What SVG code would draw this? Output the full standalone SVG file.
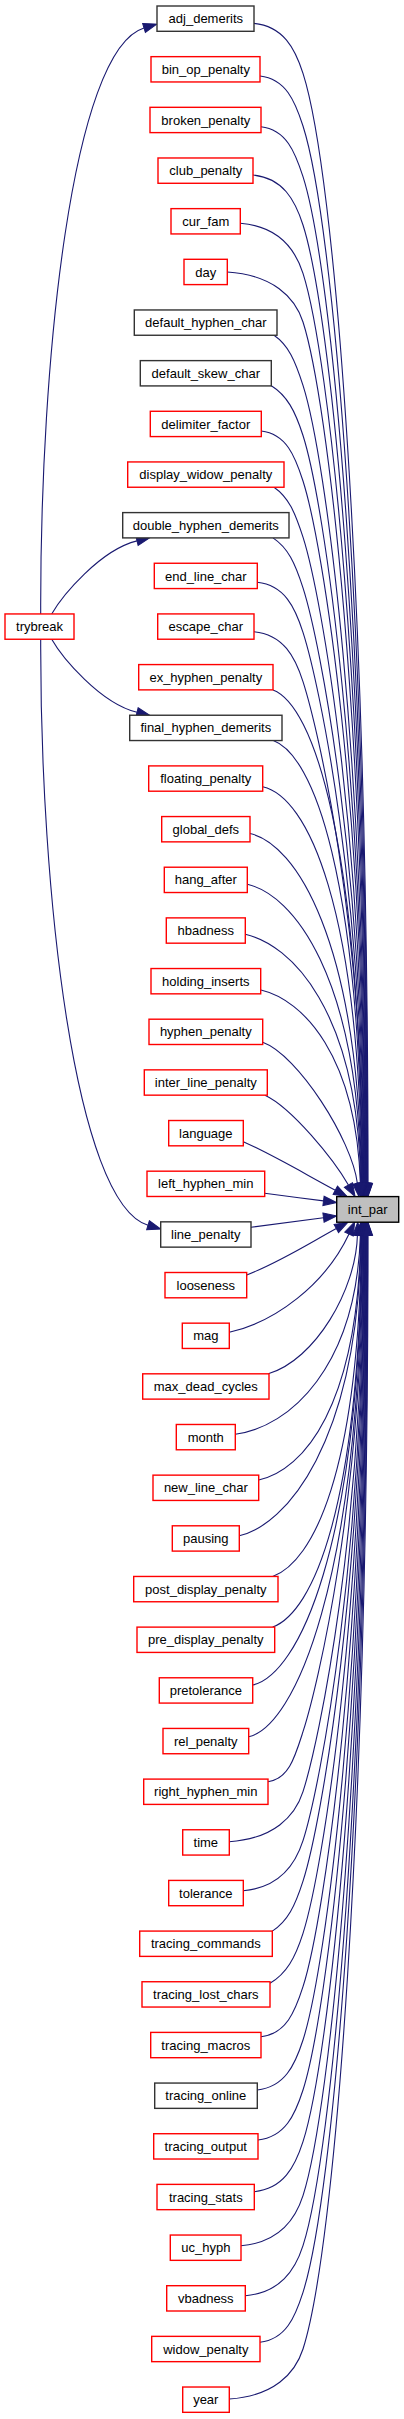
<svg xmlns="http://www.w3.org/2000/svg" width="404" height="2419" viewBox="0 0 404 2419">
<style>
.n rect{fill:#ffffff;stroke-width:1.4}
.r rect{stroke:#ff0000}
.b rect{stroke:#333333}
.s rect{fill:#bfbfbf;stroke:#000000}
text{font-family:"Liberation Sans",Arial,Helvetica,sans-serif;font-size:13px;text-anchor:middle;fill:#000000}
.e path{fill:none;stroke:#191970;stroke-width:1.1;marker-end:url(#ah)}
</style>
<defs>
<marker id="ah" markerUnits="userSpaceOnUse" markerWidth="13.3" markerHeight="9.34" viewBox="0 0 13.3 9.34" refX="0" refY="4.67" orient="auto" overflow="visible">
<path d="M0,0 L13.3,4.67 L0,9.34 Z" fill="#191970" stroke="#191970" stroke-width="1"/>
</marker>
</defs>
<rect x="0" y="0" width="404" height="2419" fill="#ffffff"/>
<g id="connectors" class="e">
<path d="M40.7,614 C40,360 72,50 144,28"/>
<path d="M51.7,614 C62,596 100,550 137,540.9"/>
<path d="M51.7,639.2 C62,657.2 100,703.2 137,712.3"/>
<path d="M40.7,639.2 C40,893.2 75,1203.2 148,1225.2"/>
<path d="M254,23.4 C283.4,26.4 295,48.4 303,73.4 C335,173.3 368,595.1 368,1183.3"/>
<path d="M260,76 C285.8,79 295,101 303,126 C333.5,221.2 367.6,622.9 367.6,1183.3"/>
<path d="M261,126.7 C286.2,129.7 295,151.7 303,176.7 C332,267.3 367.2,649.8 367.2,1183.3"/>
<path d="M253,175 C283,178 295,200 303,225 C330.6,311.2 366.8,675.4 366.8,1183.3"/>
<path d="M240.3,223.3 C277.9,226.3 295,248.3 303,273.3 C329.2,355.2 366.4,701 366.4,1183.3"/>
<path d="M227.3,272 C272.7,275 295,297 303,322 C327.8,399.5 366,726.8 366,1183.3"/>
<path d="M274,335.3 C288.5,345.3 295,360.3 303,385.3 C326,457.1 365.6,760.4 365.6,1183.3"/>
<path d="M271,385.5 C287,395.5 295,410.5 303,435.5 C324.5,502.8 365.2,787 365.2,1183.3"/>
<path d="M261.3,431 C286.3,434 295,456 303,481 C323.2,544.2 364.8,811.1 364.8,1183.3"/>
<path d="M274,487.2 C288.5,497.2 295,512.2 303,537.2 C321.6,595.3 364.4,840.9 364.4,1183.3"/>
<path d="M273,537.9 C288,547.9 295,562.9 303,587.9 C320.2,641.5 364,867.7 364,1183.3"/>
<path d="M257.3,582.3 C284.7,585.3 295,607.3 303,632.3 C318.9,681.9 363.6,891.3 363.6,1183.3"/>
<path d="M254,631.7 C283.4,634.7 295,656.7 303,681.7 C317.4,726.8 363.2,917.5 363.2,1183.3"/>
<path d="M273,689.9 C313,704.9 359.8,837.9 362.8,1183.3"/>
<path d="M273.3,740.5 C313.3,755.5 359.4,873.3 362.4,1183.3"/>
<path d="M262.7,786.7 C307.7,796.7 359,905.7 362,1183.3"/>
<path d="M250,833.5 C295,843.5 358.6,938.4 361.6,1183.3"/>
<path d="M247.3,884.3 C292.3,894.3 358.2,974 361.2,1183.3"/>
<path d="M245.3,934.3 C290.3,944.3 357.8,1009 360.8,1183.3"/>
<path d="M261,990 C303,1000 356,1055 360.4,1183.3"/>
<path d="M262.7,1042.3 C298,1055 352,1140 357.4,1183.5"/>
<path d="M265,1095.2 C292,1108 333.4,1159 348.4,1185"/>
<path d="M243.3,1141.7 C275,1156 305,1174 335.3,1190.2"/>
<path d="M264.7,1193.3 C284,1195.8 304,1198.4 323.5,1200.9"/>
<path d="M251,1227.3 C275,1224.1 299,1220.9 323.5,1217.7"/>
<path d="M246.7,1275 C280,1262 308,1244 336.3,1228.5"/>
<path d="M229.3,1332.3 C275,1322 325,1285 349,1234"/>
<path d="M268.3,1373.8 C315,1360 356,1290 357.4,1235.5"/>
<path d="M235.3,1434.3 C290,1427 356,1367 360.4,1235.5"/>
<path d="M258.7,1480 C303.7,1470 357.8,1406.6 360.8,1235.5"/>
<path d="M239.3,1535.7 C284.3,1525.7 358.2,1445.6 361.2,1235.5"/>
<path d="M272.7,1576.5 C312.7,1561.5 358.6,1474.2 361.6,1235.5"/>
<path d="M272.7,1627.1 C312.7,1612.1 359,1509.6 362,1235.5"/>
<path d="M252.7,1685 C297.7,1675 359.4,1550.1 362.4,1235.5"/>
<path d="M248.7,1736.7 C293.7,1726.7 359.8,1586.3 362.8,1235.5"/>
<path d="M268,1781.7 C289,1778.7 295,1756.7 303,1731.7 C317.3,1687 363.2,1498.5 363.2,1235.5"/>
<path d="M229.3,1841.7 C273.5,1838.7 295,1816.7 303,1791.7 C319,1741.6 363.6,1530.3 363.6,1235.5"/>
<path d="M243.3,1890.7 C279.1,1887.7 295,1865.7 303,1840.7 C320.4,1786.2 364,1556.3 364,1235.5"/>
<path d="M272.3,1931.1 C287.7,1921.1 295,1906.1 303,1881.1 C321.6,1823 364.4,1577.7 364.4,1235.5"/>
<path d="M270,1983.3 C286.5,1973.3 295,1958.3 303,1933.3 C323.1,1870.5 364.8,1605.3 364.8,1235.5"/>
<path d="M261,2036.7 C286.2,2033.7 295,2011.7 303,1986.7 C324.6,1919.1 365.2,1633.6 365.2,1235.5"/>
<path d="M257.3,2090 C284.7,2087 295,2065 303,2040 C326.2,1967.6 365.6,1661.9 365.6,1235.5"/>
<path d="M258,2140 C285,2137 295,2115 303,2090 C327.6,2013.1 366,1688.4 366,1235.5"/>
<path d="M254.3,2191.7 C283.5,2188.7 295,2166.7 303,2141.7 C329.1,2060.1 366.4,1715.8 366.4,1235.5"/>
<path d="M241,2245.7 C278.2,2242.7 295,2220.7 303,2195.7 C330.6,2109.3 366.8,1744.4 366.8,1235.5"/>
<path d="M245.3,2295.7 C279.9,2292.7 295,2270.7 303,2245.7 C332.1,2154.8 367.2,1770.9 367.2,1235.5"/>
<path d="M260,2342.3 C285.8,2339.3 295,2317.3 303,2292.3 C333.4,2197.2 367.6,1795.6 367.6,1235.5"/>
<path d="M229.3,2399 C273.5,2396 295,2374 303,2349 C335.1,2248.8 368,1825.7 368,1235.5"/>
</g>
<g id="node-int_par" class="n s"><rect x="336.7" y="1196.6" width="62" height="25.6"/><text x="367.7" y="1214">int_par</text></g>
<g id="node-trybreak" class="n r"><rect x="5" y="613.95" width="69" height="25.3"/><text x="39.5" y="631.2">trybreak</text></g>
<g id="node-adj_demerits" class="n b"><rect x="157" y="6" width="97" height="25.3"/><text x="205.8" y="23.25">adj_demerits</text></g>
<g id="node-bin_op_penalty" class="n r"><rect x="151" y="56.66" width="109" height="25.3"/><text x="205.8" y="73.91">bin_op_penalty</text></g>
<g id="node-broken_penalty" class="n r"><rect x="150" y="107.32" width="111" height="25.3"/><text x="205.8" y="124.57">broken_penalty</text></g>
<g id="node-club_penalty" class="n r"><rect x="158" y="157.98" width="95" height="25.3"/><text x="205.8" y="175.23">club_penalty</text></g>
<g id="node-cur_fam" class="n r"><rect x="171" y="208.64" width="69.3" height="25.3"/><text x="205.8" y="225.89">cur_fam</text></g>
<g id="node-day" class="n r"><rect x="184" y="259.3" width="43.3" height="25.3"/><text x="205.8" y="276.55">day</text></g>
<g id="node-default_hyphen_char" class="n b"><rect x="134.3" y="309.96" width="142.7" height="25.3"/><text x="205.8" y="327.21">default_hyphen_char</text></g>
<g id="node-default_skew_char" class="n b"><rect x="140.3" y="360.62" width="131" height="25.3"/><text x="205.8" y="377.87">default_skew_char</text></g>
<g id="node-delimiter_factor" class="n r"><rect x="150.3" y="411.28" width="111" height="25.3"/><text x="205.8" y="428.53">delimiter_factor</text></g>
<g id="node-display_widow_penalty" class="n r"><rect x="127.7" y="461.94" width="156.3" height="25.3"/><text x="205.8" y="479.19">display_widow_penalty</text></g>
<g id="node-double_hyphen_demerits" class="n b"><rect x="122.7" y="512.6" width="166.3" height="25.3"/><text x="205.8" y="529.85">double_hyphen_demerits</text></g>
<g id="node-end_line_char" class="n r"><rect x="154.3" y="563.26" width="103" height="25.3"/><text x="205.8" y="580.51">end_line_char</text></g>
<g id="node-escape_char" class="n r"><rect x="157.7" y="613.92" width="96.3" height="25.3"/><text x="205.8" y="631.17">escape_char</text></g>
<g id="node-ex_hyphen_penalty" class="n r"><rect x="138.7" y="664.58" width="134.3" height="25.3"/><text x="205.8" y="681.83">ex_hyphen_penalty</text></g>
<g id="node-final_hyphen_demerits" class="n b"><rect x="129.7" y="715.24" width="152.3" height="25.3"/><text x="205.8" y="732.49">final_hyphen_demerits</text></g>
<g id="node-floating_penalty" class="n r"><rect x="148.7" y="765.9" width="114" height="25.3"/><text x="205.8" y="783.15">floating_penalty</text></g>
<g id="node-global_defs" class="n r"><rect x="161.7" y="816.56" width="88.3" height="25.3"/><text x="205.8" y="833.81">global_defs</text></g>
<g id="node-hang_after" class="n r"><rect x="164.3" y="867.22" width="83" height="25.3"/><text x="205.8" y="884.47">hang_after</text></g>
<g id="node-hbadness" class="n r"><rect x="166.3" y="917.88" width="79" height="25.3"/><text x="205.8" y="935.13">hbadness</text></g>
<g id="node-holding_inserts" class="n r"><rect x="151" y="968.54" width="109.7" height="25.3"/><text x="205.8" y="985.79">holding_inserts</text></g>
<g id="node-hyphen_penalty" class="n r"><rect x="149" y="1019.2" width="113.7" height="25.3"/><text x="205.8" y="1036.45">hyphen_penalty</text></g>
<g id="node-inter_line_penalty" class="n r"><rect x="144.3" y="1069.86" width="123" height="25.3"/><text x="205.8" y="1087.11">inter_line_penalty</text></g>
<g id="node-language" class="n r"><rect x="168.7" y="1120.52" width="74.6" height="25.3"/><text x="205.8" y="1137.77">language</text></g>
<g id="node-left_hyphen_min" class="n r"><rect x="147" y="1171.18" width="117.7" height="25.3"/><text x="205.8" y="1188.43">left_hyphen_min</text></g>
<g id="node-line_penalty" class="n b"><rect x="160.7" y="1221.84" width="90.3" height="25.3"/><text x="205.8" y="1239.09">line_penalty</text></g>
<g id="node-looseness" class="n r"><rect x="165" y="1272.5" width="81.7" height="25.3"/><text x="205.8" y="1289.75">looseness</text></g>
<g id="node-mag" class="n r"><rect x="182.3" y="1323.16" width="47" height="25.3"/><text x="205.8" y="1340.41">mag</text></g>
<g id="node-max_dead_cycles" class="n r"><rect x="142.7" y="1373.82" width="126.3" height="25.3"/><text x="205.8" y="1391.07">max_dead_cycles</text></g>
<g id="node-month" class="n r"><rect x="176.3" y="1424.48" width="59" height="25.3"/><text x="205.8" y="1441.73">month</text></g>
<g id="node-new_line_char" class="n r"><rect x="153" y="1475.14" width="105.7" height="25.3"/><text x="205.8" y="1492.39">new_line_char</text></g>
<g id="node-pausing" class="n r"><rect x="172.3" y="1525.8" width="67" height="25.3"/><text x="205.8" y="1543.05">pausing</text></g>
<g id="node-post_display_penalty" class="n r"><rect x="133.7" y="1576.46" width="144.3" height="25.3"/><text x="205.8" y="1593.71">post_display_penalty</text></g>
<g id="node-pre_display_penalty" class="n r"><rect x="137" y="1627.12" width="137.7" height="25.3"/><text x="205.8" y="1644.37">pre_display_penalty</text></g>
<g id="node-pretolerance" class="n r"><rect x="159.3" y="1677.78" width="93.4" height="25.3"/><text x="205.8" y="1695.03">pretolerance</text></g>
<g id="node-rel_penalty" class="n r"><rect x="163" y="1728.44" width="85.7" height="25.3"/><text x="205.8" y="1745.69">rel_penalty</text></g>
<g id="node-right_hyphen_min" class="n r"><rect x="143.7" y="1779.1" width="124.3" height="25.3"/><text x="205.8" y="1796.35">right_hyphen_min</text></g>
<g id="node-time" class="n r"><rect x="182.7" y="1829.76" width="46.6" height="25.3"/><text x="205.8" y="1847.01">time</text></g>
<g id="node-tolerance" class="n r"><rect x="168.7" y="1880.42" width="74.6" height="25.3"/><text x="205.8" y="1897.67">tolerance</text></g>
<g id="node-tracing_commands" class="n r"><rect x="139.7" y="1931.08" width="132.6" height="25.3"/><text x="205.8" y="1948.33">tracing_commands</text></g>
<g id="node-tracing_lost_chars" class="n r"><rect x="142" y="1981.74" width="128" height="25.3"/><text x="205.8" y="1998.99">tracing_lost_chars</text></g>
<g id="node-tracing_macros" class="n r"><rect x="150.7" y="2032.4" width="110.3" height="25.3"/><text x="205.8" y="2049.65">tracing_macros</text></g>
<g id="node-tracing_online" class="n b"><rect x="154.7" y="2083.06" width="102.6" height="25.3"/><text x="205.8" y="2100.31">tracing_online</text></g>
<g id="node-tracing_output" class="n r"><rect x="153.7" y="2133.72" width="104.3" height="25.3"/><text x="205.8" y="2150.97">tracing_output</text></g>
<g id="node-tracing_stats" class="n r"><rect x="157" y="2184.38" width="97.3" height="25.3"/><text x="205.8" y="2201.63">tracing_stats</text></g>
<g id="node-uc_hyph" class="n r"><rect x="170.3" y="2235.04" width="70.7" height="25.3"/><text x="205.8" y="2252.29">uc_hyph</text></g>
<g id="node-vbadness" class="n r"><rect x="166.7" y="2285.7" width="78.6" height="25.3"/><text x="205.8" y="2302.95">vbadness</text></g>
<g id="node-widow_penalty" class="n r"><rect x="151.7" y="2336.36" width="108.3" height="25.3"/><text x="205.8" y="2353.61">widow_penalty</text></g>
<g id="node-year" class="n r"><rect x="182.7" y="2387.02" width="46.6" height="25.3"/><text x="205.8" y="2404.27">year</text></g>
</svg>
